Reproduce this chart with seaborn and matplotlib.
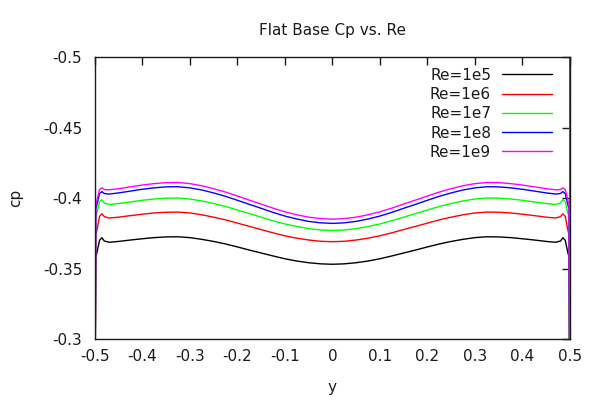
import numpy as np
import pandas as pd
import matplotlib
matplotlib.use('Agg')
import matplotlib.pyplot as plt
import seaborn as sns

sns.set_theme(style='white')
plt.rcParams['font.family'] = ['DejaVu Sans']
plt.rcParams['axes.unicode_minus'] = False
plt.rcParams['text.color'] = 'k'
plt.rcParams['axes.labelcolor'] = 'k'

# positions across the base
y_pos = [-0.5, -0.4995, -0.498, -0.495, -0.49, -0.485, -0.48, -0.47, -0.45, -0.425,
         -0.4, -0.375, -0.35, -0.325, -0.3, -0.275, -0.25, -0.225, -0.2, -0.175,
         -0.15, -0.125, -0.1, -0.075, -0.05, -0.025, 0.0,
         0.025, 0.05, 0.075, 0.1, 0.125, 0.15, 0.175, 0.2, 0.225, 0.25,
         0.275, 0.3, 0.325, 0.35, 0.375, 0.4, 0.425, 0.45, 0.47, 0.48,
         0.485, 0.49, 0.495, 0.498, 0.4995, 0.5]

cp_1e5 = [-0.6, -0.25, -0.358, -0.362, -0.3700, -0.3718, -0.3695, -0.3686, -0.3692, -0.3702,
          -0.3711, -0.3719, -0.3724, -0.3725, -0.3719, -0.3707, -0.3692, -0.3674, -0.3653, -0.3631,
          -0.3610, -0.3589, -0.3569, -0.3553, -0.3541, -0.3533, -0.3530,
          -0.3533, -0.3541, -0.3553, -0.3569, -0.3589, -0.3610, -0.3631, -0.3653, -0.3674, -0.3692,
          -0.3707, -0.3719, -0.3725, -0.3724, -0.3719, -0.3711, -0.3702, -0.3692, -0.3686, -0.3695,
          -0.3718, -0.3700, -0.362, -0.358, -0.25, -0.6]
cp_1e6 = [-0.6, -0.25, -0.374, -0.378, -0.3870, -0.3888, -0.3868, -0.3858, -0.3864, -0.3875,
          -0.3885, -0.3894, -0.3899, -0.3900, -0.3894, -0.3881, -0.3864, -0.3845, -0.3822, -0.3799,
          -0.3776, -0.3753, -0.3732, -0.3715, -0.3702, -0.3693, -0.3690,
          -0.3693, -0.3702, -0.3715, -0.3732, -0.3753, -0.3776, -0.3799, -0.3822, -0.3845, -0.3864,
          -0.3881, -0.3894, -0.3900, -0.3899, -0.3894, -0.3885, -0.3875, -0.3864, -0.3858, -0.3868,
          -0.3888, -0.3870, -0.378, -0.374, -0.25, -0.6]
cp_1e7 = [-0.6, -0.25, -0.386, -0.390, -0.3975, -0.3988, -0.3965, -0.3954, -0.3961, -0.3972,
          -0.3984, -0.3993, -0.3999, -0.4000, -0.3993, -0.3979, -0.3961, -0.3940, -0.3915, -0.3890,
          -0.3864, -0.3839, -0.3816, -0.3798, -0.3783, -0.3773, -0.3770,
          -0.3773, -0.3783, -0.3798, -0.3816, -0.3839, -0.3864, -0.3890, -0.3915, -0.3940, -0.3961,
          -0.3979, -0.3993, -0.4000, -0.3999, -0.3993, -0.3984, -0.3972, -0.3961, -0.3954, -0.3965,
          -0.3988, -0.3975, -0.390, -0.386, -0.25, -0.6]
cp_1e8 = [-0.6, -0.25, -0.392, -0.396, -0.4032, -0.4045, -0.4032, -0.4028, -0.4036, -0.4049,
          -0.4062, -0.4072, -0.4079, -0.4080, -0.4072, -0.4057, -0.4036, -0.4012, -0.3984, -0.3955,
          -0.3927, -0.3898, -0.3872, -0.3851, -0.3834, -0.3824, -0.3820,
          -0.3824, -0.3834, -0.3851, -0.3872, -0.3898, -0.3927, -0.3955, -0.3984, -0.4012, -0.4036,
          -0.4057, -0.4072, -0.4080, -0.4079, -0.4072, -0.4062, -0.4049, -0.4036, -0.4028, -0.4032,
          -0.4045, -0.4032, -0.396, -0.392, -0.25, -0.6]
cp_1e9 = [-0.6, -0.25, -0.395, -0.399, -0.4060, -0.4072, -0.4060, -0.4058, -0.4066, -0.4079,
          -0.4092, -0.4102, -0.4109, -0.4110, -0.4102, -0.4087, -0.4066, -0.4042, -0.4014, -0.3985,
          -0.3957, -0.3928, -0.3902, -0.3881, -0.3864, -0.3854, -0.3850,
          -0.3854, -0.3864, -0.3881, -0.3902, -0.3928, -0.3957, -0.3985, -0.4014, -0.4042, -0.4066,
          -0.4087, -0.4102, -0.4110, -0.4109, -0.4102, -0.4092, -0.4079, -0.4066, -0.4058, -0.4060,
          -0.4072, -0.4060, -0.399, -0.395, -0.25, -0.6]

labels = ['Re=1e5', 'Re=1e6', 'Re=1e7', 'Re=1e8', 'Re=1e9']
palette = ['#000000', '#ff0000', '#00ff00', '#0000ff', '#ff00ff']

x_ticks = [-0.5, -0.4, -0.3, -0.2, -0.1, 0, 0.1, 0.2, 0.3, 0.4, 0.5]
x_ticklabels = ['-0.5', '-0.4', '-0.3', '-0.2', '-0.1', '0', '0.1', '0.2', '0.3', '0.4', '0.5']
y_ticks = [-0.5, -0.45, -0.4, -0.35, -0.3]
y_ticklabels = ['-0.5', '-0.45', '-0.4', '-0.35', '-0.3']

frames = []
for lab, vals in zip(labels, [cp_1e5, cp_1e6, cp_1e7, cp_1e8, cp_1e9]):
    frames.append(pd.DataFrame({'y': y_pos, 'cp': vals, 'Re': lab}))
df = pd.concat(frames, ignore_index=True)

fig = plt.figure(figsize=(6, 4), dpi=100)
ax = fig.add_axes([0.158, 0.1525, 0.792, 0.705])

sns.lineplot(data=df, x='y', y='cp', hue='Re', palette=palette, estimator=None,
             sort=False, linewidth=1.0, ax=ax)

ax.set_xlim(-0.5, 0.5)
ax.set_ylim(-0.3, -0.5)
ax.set_xticks(x_ticks, x_ticklabels)
ax.set_yticks(y_ticks, y_ticklabels)
ax.tick_params(direction='in', length=6, width=1, top=True, right=True,
               labelsize=11, colors='k', pad=7)
ax.tick_params(axis='y', pad=9)
for s in ax.spines.values():
    s.set_color('k')
    s.set_linewidth(1)

ax.set_xlabel('y', fontsize=11, labelpad=12)
ax.set_ylabel('cp', fontsize=11, labelpad=14)
ax.set_title('Flat Base Cp vs. Re', fontsize=11, pad=16)

leg = ax.legend(loc='upper right', frameon=False, markerfirst=False, fontsize=11,
                handlelength=3.3, handletextpad=0.7, labelspacing=0.28,
                borderaxespad=0.3, bbox_to_anchor=(0.985, 1.0), title=None)

fig.savefig('out.png', dpi=100)
